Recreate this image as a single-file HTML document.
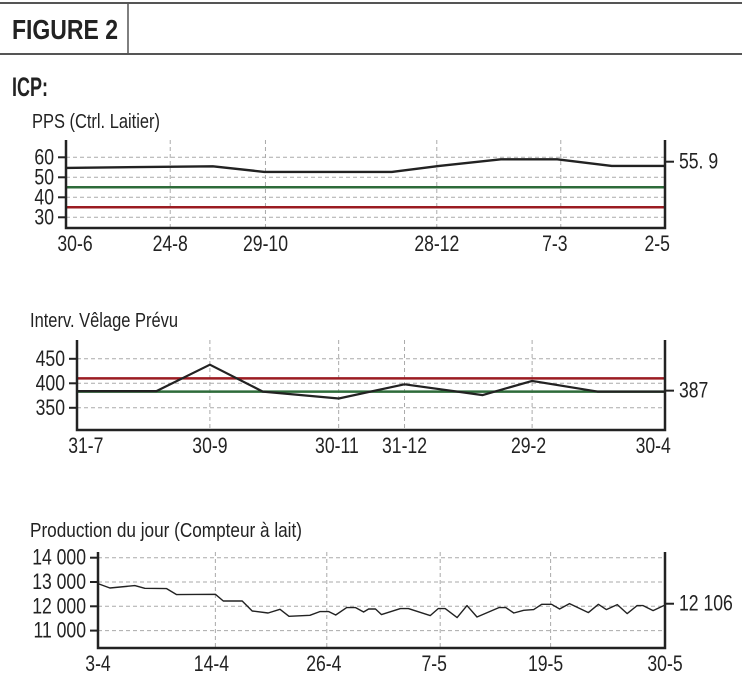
<!DOCTYPE html>
<html><head><meta charset="utf-8"><style>
html,body{margin:0;padding:0;background:#fff;}
svg{display:block;font-family:"Liberation Sans Narrow","Liberation Sans",sans-serif;}
</style></head><body>
<svg id="fig" width="742" height="683" viewBox="0 0 742 683" xmlns="http://www.w3.org/2000/svg">
<g>
<line x1="0" y1="3" x2="742" y2="3" stroke="#555" stroke-width="2"/>
<line x1="0" y1="54" x2="742" y2="54" stroke="#555" stroke-width="2"/>
<line x1="128" y1="3" x2="128" y2="54" stroke="#555" stroke-width="1.5"/>
<text x="12" y="39" font-size="28" font-weight="bold" fill="#222" textLength="106" lengthAdjust="spacingAndGlyphs">FIGURE 2</text>
</g>
<text x="12" y="96" font-size="27" font-weight="bold" fill="#222" textLength="36" lengthAdjust="spacingAndGlyphs">ICP:</text>
<text x="32" y="128" font-size="20" fill="#222" textLength="128" lengthAdjust="spacingAndGlyphs">PPS (Ctrl. Laitier)</text>
<text x="30" y="327" font-size="20" fill="#222" textLength="148" lengthAdjust="spacingAndGlyphs">Interv. Vêlage Prévu</text>
<text x="30" y="537" font-size="20" fill="#222" textLength="272" lengthAdjust="spacingAndGlyphs">Production du jour (Compteur à lait)</text>
</svg>
<script>
// ---- Chart 1: PPS ----
const ppsX = [0, 24.5, 33.1, 54.4, 62.3, 72.6, 82.0, 91.1, 100];
const ppsY = [54.7, 55.5, 52.7, 52.7, 55.7, 59, 59, 55.7, 55.7];
const ppsYTicks = [60, 50, 40, 30];
const ppsXGrid = [17.4, 33.3, 61.9, 82.6];
const ppsXLabels = ['30-6', '24-8', '29-10', '28-12', '7-3', '2-5'];
const ppsXLabelPos = [1.5, 17.4, 33.3, 61.9, 81.6, 98.7];
const ppsGreen = 45;
const ppsRed = 35;
const ppsLast = '55. 9';
const ppsLastVal = 57.8;

// ---- Chart 2: Interv. Vêlage Prévu ----
const ivpX = [0, 13.5, 22.6, 31.6, 44.5, 55.7, 69.0, 77.4, 88.5, 100];
const ivpY = [384, 384, 438, 383, 369, 398, 376, 405, 383, 383];
const ivpYTicks = [450, 400, 350];
const ivpXGrid = [22.6, 44.5, 55.7, 77.4];
const ivpXLabels = ['31-7', '30-9', '30-11', '31-12', '29-2', '30-4'];
const ivpXLabelPos = [1.5, 22.6, 44.2, 55.7, 76.8, 98];
const ivpGreen = 383;
const ivpRed = 410;
const ivpLast = '387';
const ivpLastVal = 385;

// ---- Chart 3: Production du jour ----
const prodX = [0,1.2,3.7,4.7,6.9,7.9,11.8,12.6,14.5,15.5,17.1,18.3,19.2,21.3,22.3,23.2,23.9,25.0,25.9,26.7,27.2,27.9,28.5,30.4,31.2,33.4,34.2,34.9,36.1,37.1,38.1,40.3,41.0,41.8,42.8,43.8,44.6,45.6,46.4,47.4,49.3,50.3,51.1,52.2,53.2,54.2,54.8,55.8,57];
const prodY = [12934,12753,12852,12741,12728,12481,12494,12218,12218,11807,11724,11877,11589,11630,11782,11782,11643,11946,11946,11766,11889,11889,11658,11905,11905,11617,11905,11905,11535,12029,11560,11946,11946,11724,11835,11864,12082,12082,11889,12110,11740,12082,11864,12070,11700,12029,12029,11823,12055];
const prodYTicks = [14000, 13000, 12000, 11000];
const prodYTickLabels = ['14 000', '13 000', '12 000', '11 000'];
const prodXGrid = [11.8, 23, 34.4, 45.5];
const prodXLabels = ['3-4', '14-4', '26-4', '7-5', '19-5', '30-5'];
const prodXLabelPos = [0, 11.4, 22.7, 33.8, 45, 57];
const prodLast = '12 106';
const prodLastVal = 12106;

const NS = 'http://www.w3.org/2000/svg';
const svg = document.getElementById('fig');
function mk(tag, attrs, parent) {
  const e = document.createElementNS(NS, tag);
  for (const k in attrs) e.setAttribute(k, attrs[k]);
  (parent || svg).appendChild(e);
  return e;
}
function ctext(parent, x, y, anchor, size) {
  return mk('text', {x: 0, y: 0, transform: `translate(${x.toFixed(1)},${y.toFixed(1)}) scale(0.8,1)`, 'font-size': size, 'text-anchor': anchor, fill: '#222'}, parent);
}
function drawChart(cfg) {
  const g = mk('g', {});
  
  
  const L = cfg.left, R = cfg.right, T = cfg.top, B = cfg.bottom;
  const xs = v => L + (v - cfg.xMin) / (cfg.xMax - cfg.xMin) * (R - L);
  const ys = v => cfg.y0 + (cfg.v0 - v) * cfg.pxPer;
  cfg.yTicks.forEach((t, i) => {
    const gl = mk('line', {x1: L, x2: R, y1: ys(t), y2: ys(t), stroke: '#aaa', 'stroke-width': 1, 'stroke-dasharray': '4,3'}, g);
    
    
    const tk = mk('line', {x1: L - 8, x2: L, y1: ys(t), y2: ys(t), stroke: '#222', 'stroke-width': 2}, g);
    
    
    const tx = ctext(g, L - 12, ys(t) + 7, 'end', 22);
    
    
    tx.textContent = cfg.yLabels ? cfg.yLabels[i] : String(t);
  });
  cfg.xGrid.forEach(t => {
    const gl = mk('line', {x1: xs(t), x2: xs(t), y1: T, y2: B, stroke: '#aaa', 'stroke-width': 1, 'stroke-dasharray': '4,3'}, g);
    
    
  });
  cfg.xLabels.forEach((lab, i) => {
    const tx = ctext(g, xs(cfg.xLabelPos[i]), B + 23, 'middle', 22);
    
    
    tx.textContent = lab;
  });
  if (cfg.green !== undefined) {
    const gr = mk('line', {x1: L, x2: R, y1: ys(cfg.green), y2: ys(cfg.green), stroke: '#2e6b3a', 'stroke-width': 2.5}, g);
    
    
  }
  if (cfg.red !== undefined) {
    const rd = mk('line', {x1: L, x2: R, y1: ys(cfg.red), y2: ys(cfg.red), stroke: '#9b1c22', 'stroke-width': 2.5}, g);
    
    
  }
  const pts = cfg.xv.map((x, i) => xs(x).toFixed(1) + ',' + ys(cfg.yv[i]).toFixed(1)).join(' ');
  const pl = mk('polyline', {points: pts, fill: 'none', stroke: '#222', 'stroke-width': cfg.lw, 'stroke-linejoin': 'round'}, g);
  
  
  const ax = mk('path', {d: `M${L},${T} L${L},${B} L${R},${B} L${R},${T}`, fill: 'none', stroke: '#222', 'stroke-width': 2.5}, g);
  
  
  const mt = mk('line', {x1: R, x2: R + 9, y1: ys(cfg.lastVal), y2: ys(cfg.lastVal), stroke: '#222', 'stroke-width': 2}, g);
  
  
  const lv = ctext(g, R + 14, ys(cfg.lastVal) + 7, 'start', 22);
  
  
  lv.textContent = cfg.last;
}
drawChart({name: 'pps-chart', left: 66, right: 665, top: 140, bottom: 228, xMin: 0, xMax: 100,
  y0: 157.3, v0: 60, pxPer: 2, yTicks: ppsYTicks, xGrid: ppsXGrid, xLabels: ppsXLabels, xLabelPos: ppsXLabelPos,
  green: ppsGreen, red: ppsRed, xv: ppsX, yv: ppsY, lw: 2.4, last: ppsLast, lastVal: ppsLastVal});
drawChart({name: 'interv-velage-chart', left: 77, right: 665, top: 340, bottom: 430, xMin: 0, xMax: 100,
  y0: 383.3, v0: 400, pxPer: 0.49, yTicks: ivpYTicks, xGrid: ivpXGrid, xLabels: ivpXLabels, xLabelPos: ivpXLabelPos,
  green: ivpGreen, red: ivpRed, xv: ivpX, yv: ivpY, lw: 2.2, last: ivpLast, lastVal: ivpLastVal});
drawChart({name: 'production-chart', left: 98, right: 665, top: 552, bottom: 648, xMin: 0, xMax: 57,
  y0: 606.3, v0: 12000, pxPer: 0.0243, yTicks: prodYTicks, yLabels: prodYTickLabels, xGrid: prodXGrid, xLabels: prodXLabels, xLabelPos: prodXLabelPos,
  xv: prodX, yv: prodY, lw: 1.4, last: prodLast, lastVal: prodLastVal});
</script>
</body></html>
